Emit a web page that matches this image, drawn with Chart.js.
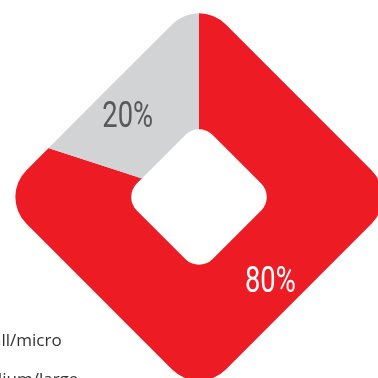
<!DOCTYPE html>
<html>
<head>
<meta charset="utf-8">
<script src="https://cdn.jsdelivr.net/npm/chart.js@4/dist/chart.umd.min.js"></script>
<style>
  html, body { margin: 0; padding: 0; background: #fff; }
  body { width: 378px; height: 378px; overflow: hidden; position: relative; }
  #shareChart { position: absolute; left: 0; top: 0; }
  .legend { position: absolute; left: -60px; top: 320px; font-family: "Open Sans", sans-serif; font-size: 17px; color: #333; }
  .legend .item { display: flex; align-items: center; height: 39px; }
  .legend .box { width: 14px; height: 14px; margin-right: 13px; }
</style>
</head>
<body>
<canvas id="shareChart" width="400" height="400"></canvas>
<div class="legend"></div>
<script>
const labels = ['Small/micro', 'Medium/large']
const shares = [80, 20]
const sliceColors = ['#ED1C24', '#D1D3D4']
const textColors = ['#FFFFFF', '#58595B']

// rounded square turned 45deg, half = half side length, r = corner radius
function diamondPath(ctx, cx, cy, half, r) {
    const d = half * Math.SQRT2
    const pts = [[cx, cy - d], [cx + d, cy], [cx, cy + d], [cx - d, cy]]
    ctx.moveTo(cx - d / 2, cy - d / 2)
    for (let i = 0; i < 4; i++) {
        const p = pts[i]
        const n = pts[(i + 1) % 4]
        ctx.arcTo(p[0], p[1], n[0], n[1], r)
    }
    ctx.closePath()
}

const diamondShape = {
    id: 'diamondShape',
    beforeDatasetsDraw(chart) {
        const arc = chart.getDatasetMeta(0).data[0]
        const ctx = chart.ctx
        ctx.save()
        ctx.beginPath()
        diamondPath(ctx, arc.x, arc.y, 141, 38)
        diamondPath(ctx, arc.x, arc.y, 53.5, 19)
        ctx.clip('evenodd')
    },
    afterDatasetsDraw(chart) {
        const ctx = chart.ctx
        ctx.restore()
        // percentage labels, narrow type, turned a little back from the slice middle
        chart.getDatasetMeta(0).data.forEach((arc, i) => {
            const mid = (arc.startAngle + arc.endAngle) / 2 - 0.085
            const x = arc.x + Math.cos(mid) * 109
            const y = arc.y + Math.sin(mid) * 109
            ctx.save()
            ctx.translate(x, y)
            ctx.scale(0.76, 1)
            ctx.font = '36px Roboto'
            ctx.fillStyle = textColors[i]
            ctx.textAlign = 'center'
            ctx.textBaseline = 'alphabetic'
            ctx.fillText(shares[i] + '%', 0, 12.5)
            ctx.restore()
        })
    }
}

const chart = new Chart(document.getElementById('shareChart'), {
    type: 'pie',
    data: {
        labels: labels,
        datasets: [{
            data: shares,
            backgroundColor: sliceColors,
            borderWidth: 0,
            hoverOffset: 0
        }]
    },
    options: {
        responsive: false,
        animation: false,
        layout: { padding: { left: 9, top: 7, right: 11, bottom: 13 } },
        plugins: {
            legend: { display: false },
            tooltip: { enabled: false }
        }
    },
    plugins: [diamondShape]
})

const legendEl = document.querySelector('.legend')
labels.forEach((name, i) => {
    legendEl.innerHTML += `<div class="item"><span class="box" style="background:${sliceColors[i]}"></span>${name}</div>`
})
</script>
</body>
</html>
